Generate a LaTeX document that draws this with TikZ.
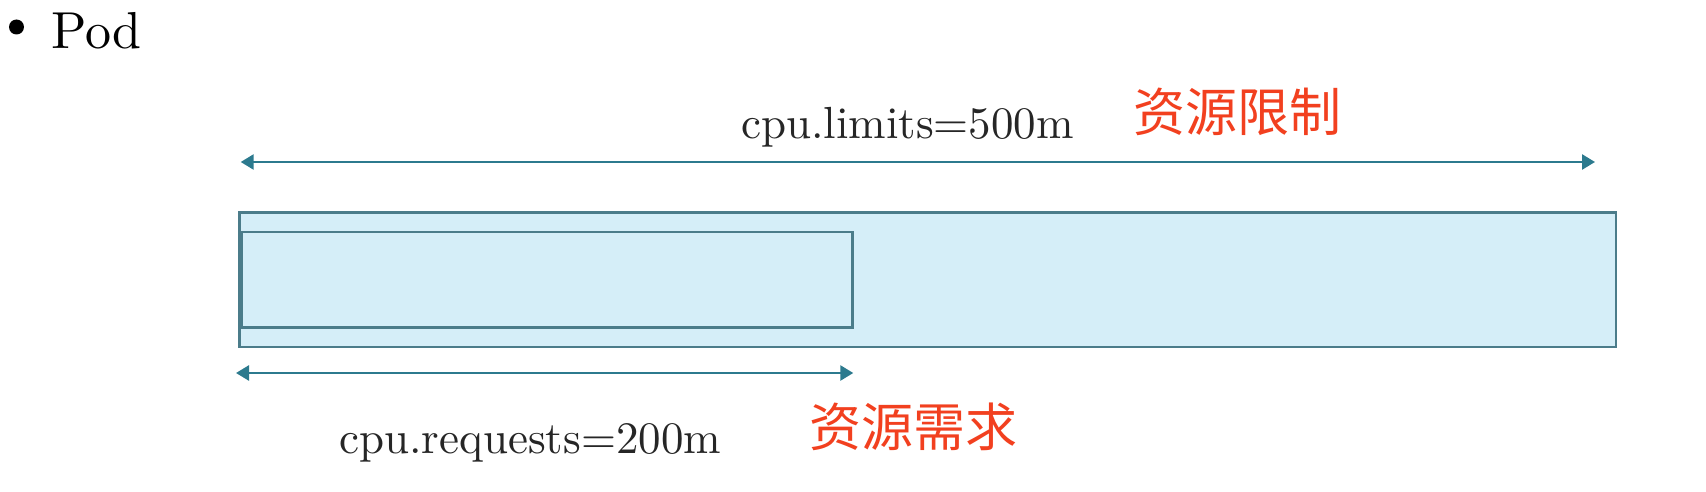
\documentclass[tikz,border=0pt]{standalone}
\usepackage{fontspec}
\setmainfont{lmroman10-regular}[Extension=.otf]
\newfontfamily\cjk{Noto Sans CJK SC}
\usetikzlibrary{arrows.meta}
\definecolor{arrowteal}{HTML}{2C7A8E}
\definecolor{boxline}{HTML}{4B7C8A}
\definecolor{boxfill}{HTML}{D5EEF8}
\definecolor{cnred}{HTML}{F2401F}
\tikzset{
  dimarrow/.style={draw=arrowteal, line width=2.6pt,
    {Triangle[length=13pt,width=15pt]}-{Triangle[length=13pt,width=15pt]}},
  latin/.style={inner sep=0pt, anchor=base west, font=\fontsize{45}{50}\selectfont, text=black!85},
  cnlabel/.style={inner sep=0pt, anchor=base west, font=\cjk\fontsize{52}{60}\selectfont, text=cnred},
  boxstyle/.style={draw=boxline, fill=boxfill, line width=2.8pt, inner sep=0pt, rectangle}
}
\begin{document}
\begin{tikzpicture}[x=1pt,y=-1pt]
\useasboundingbox (0,0) rectangle (1706,492);
\fill[white] (0,0) rectangle (1706,492);
% title
\node[circle, fill=black, minimum size=15pt, inner sep=0pt] (bullet) at (16.5,27) {};
\node[inner sep=0pt, anchor=base west, font=\fontsize{52}{60}\selectfont] (pod) at (51,48.3) {Pod};
% boxes
\node[boxstyle, minimum width=1376.7pt, minimum height=134.3pt] (outer) at (927.6,279.8) {};
\node[boxstyle, minimum width=611pt, minimum height=95.7pt] (inner) at (547.2,279.85) {};
% dimension arrows
\coordinate (limL) at (240.7,162);
\coordinate (limR) at (1595,162);
\coordinate (reqL) at (236,373);
\coordinate (reqR) at (853.3,373);
\draw[dimarrow] (limL) -- (limR);
\draw[dimarrow] (reqL) -- (reqR);
% labels
\node[latin] (limtxt) at (741,138.3) {cpu.limits=500m};
\node[latin] (reqtxt) at (339,453) {cpu.requests=200m};
\node[cnlabel] (limcn) at (1133,131.5) {资源限制};
\node[cnlabel] (reqcn) at (809,446) {资源需求};
\end{tikzpicture}
\end{document}
